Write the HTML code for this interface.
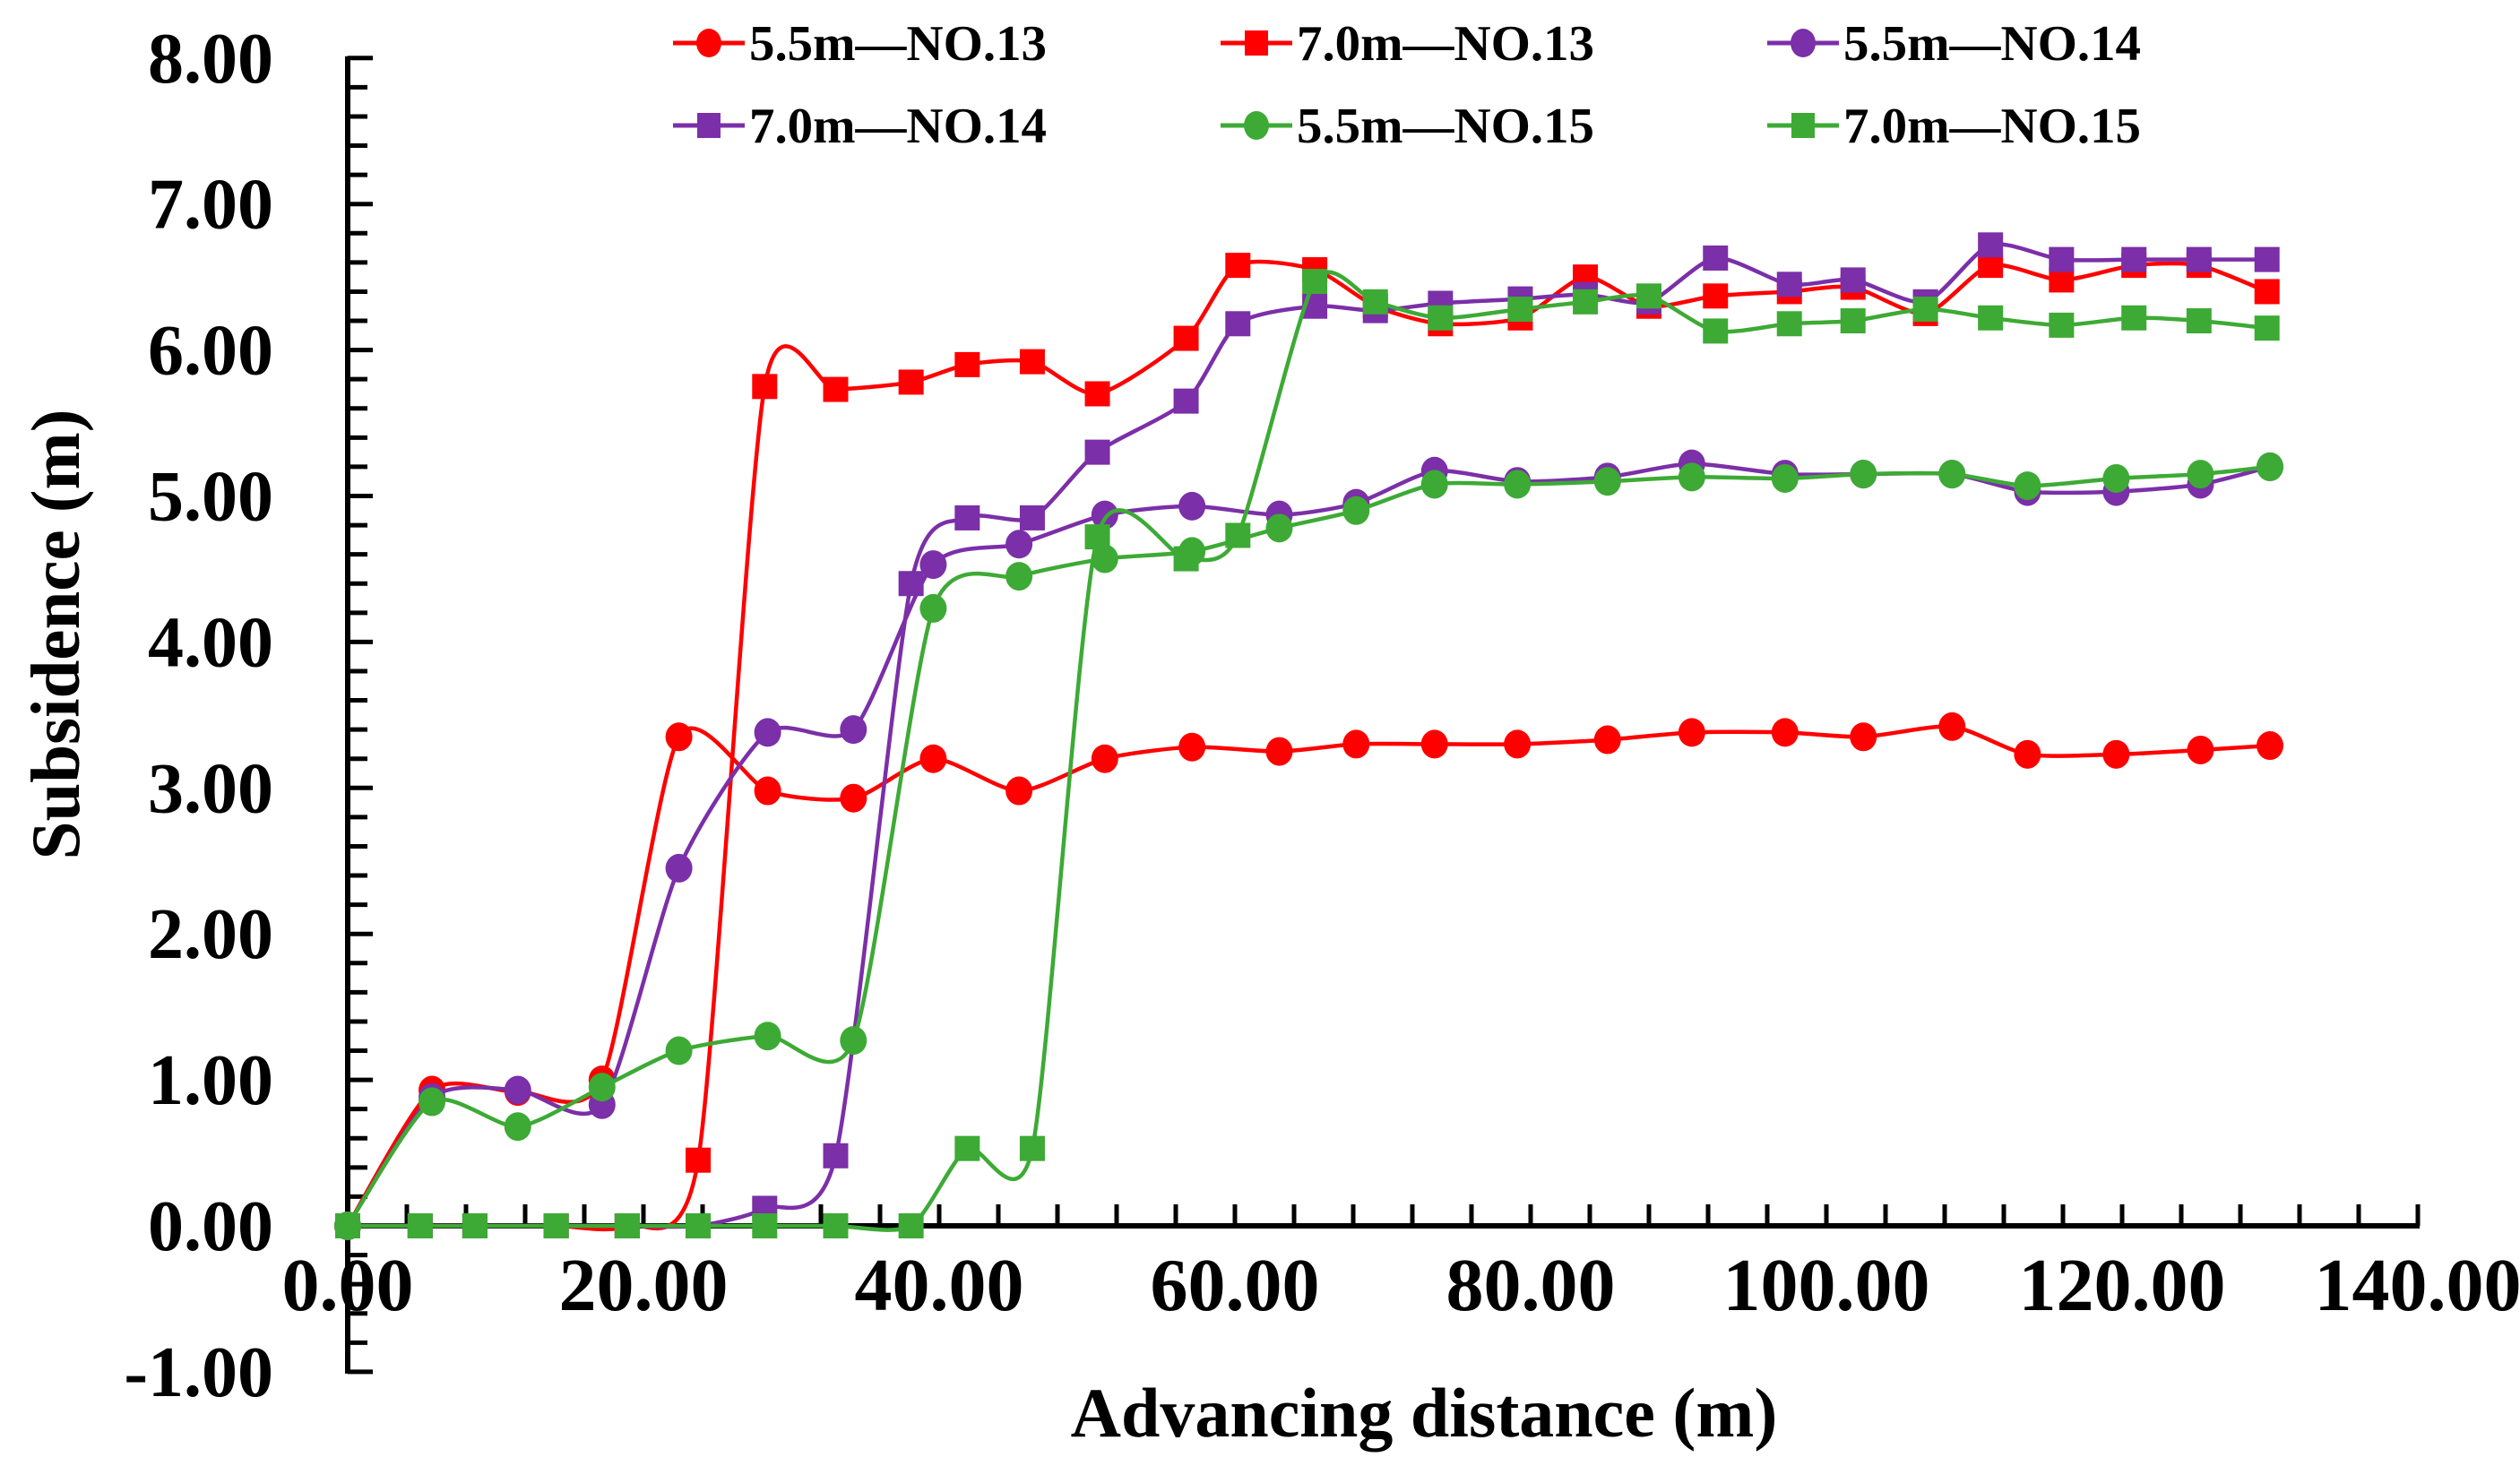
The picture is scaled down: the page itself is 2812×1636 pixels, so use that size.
<!DOCTYPE html>
<html><head><meta charset="utf-8"><style>
html,body{margin:0;padding:0;background:#fff;}
svg{display:block;font-family:"Liberation Serif",serif;font-weight:bold;}
</style></head><body>
<svg id="chart" width="2812" height="1636" viewBox="0 0 2812 1636">
<g id="axes"></g>
<g id="series"></g>
<g id="legend"></g>
</svg>
<script>
const xTickLabels = ["0.00","20.00","40.00","60.00","80.00","100.00","120.00","140.00"];
const xTickValues = [0,20,40,60,80,100,120,140];
const yTickLabels = ["-1.00","0.00","1.00","2.00","3.00","4.00","5.00","6.00","7.00","8.00"];
const yTickValues = [-1,0,1,2,3,4,5,6,7,8];
const xCircle = [0,5.7,11.5,17.2,22.4,28.4,34.2,39.6,45.4,51.2,57.1,63,68.2,73.5,79.1,85.2,90.9,97.2,102.5,108.5,113.6,119.6,125.3,130];
const xSquare = [0,4.9,8.6,14.1,18.9,23.7,28.2,33.0,38.1,41.9,46.3,50.7,56.7,60.2,65.4,69.5,73.9,79.3,83.7,88.0,92.5,97.5,101.8,106.7,111.1,115.9,120.8,125.2,129.8];
const y55NO13 = [0,0.93,0.92,1.0,3.35,2.98,2.93,3.2,2.98,3.2,3.28,3.25,3.3,3.3,3.3,3.33,3.38,3.38,3.35,3.42,3.23,3.23,3.26,3.29];
const y55NO14 = [0,0.88,0.93,0.83,2.45,3.38,3.4,4.53,4.67,4.87,4.93,4.87,4.95,5.17,5.1,5.13,5.22,5.15,5.15,5.15,5.03,5.03,5.08,5.2];
const y55NO15 = [0,0.85,0.68,0.95,1.2,1.3,1.27,4.23,4.45,4.57,4.62,4.78,4.9,5.08,5.08,5.1,5.13,5.12,5.15,5.15,5.07,5.12,5.15,5.2];
const y70NO13 = [0,0,0,0,0,0.45,5.75,5.73,5.78,5.9,5.92,5.7,6.08,6.58,6.55,6.3,6.18,6.22,6.5,6.3,6.37,6.4,6.43,6.25,6.58,6.48,6.58,6.58,6.4];
const y70NO14 = [0,0,0,0,0,0,0.12,0.48,4.4,4.85,4.85,5.3,5.65,6.18,6.3,6.27,6.32,6.35,6.38,6.33,6.63,6.45,6.48,6.33,6.72,6.62,6.62,6.62,6.62];
const y70NO15 = [0,0,0,0,0,0,0,0,0,0.53,0.53,4.72,4.57,4.73,6.47,6.33,6.22,6.28,6.33,6.37,6.13,6.18,6.2,6.28,6.22,6.17,6.22,6.2,6.15];

const X0=388, XPX=16.5, Y0=1368, YPX=162.9;
const sx=v=>X0+v*XPX, sy=v=>Y0-v*YPX;
const NS="http://www.w3.org/2000/svg";
function mk(tag,attrs,parent){const e=document.createElementNS(NS,tag);for(const k in attrs)e.setAttribute(k,attrs[k]);parent.appendChild(e);return e;}
const axes=document.getElementById('axes');
let yl=mk('line',{x1:X0,y1:sy(8)-2,x2:X0,y2:sy(-1)+2,stroke:'#000','stroke-width':6},axes);


for(let i=-5;i<=40;i++){const v=i/5;const t=mk('line',{x1:X0,x2:X0+(i%5===0?28:22),y1:sy(v),y2:sy(v),stroke:'#000','stroke-width':5},axes);

}
let xl=mk('line',{x1:X0,y1:Y0,x2:sx(140)+2,y2:Y0,stroke:'#000','stroke-width':6},axes);


for(let i=1;i<=35;i++){const v=i*4;const t=mk('line',{x1:sx(v),x2:sx(v),y1:Y0,y2:Y0-24,stroke:'#000','stroke-width':5},axes);

}
yTickValues.forEach((v,i)=>{const t=mk('text',{x:305,y:sy(v)+27,'text-anchor':'end','font-size':80},axes);t.textContent=yTickLabels[i];

});
xTickValues.forEach((v,i)=>{const t=mk('text',{x:sx(v),y:1462,'text-anchor':'middle','font-size':84},axes);t.textContent=xTickLabels[i];

});
let yt=mk('text',{x:0,y:0,'text-anchor':'middle','font-size':77,transform:'translate(88,708) rotate(-90)'},axes);yt.textContent='Subsidence (m)';


let xt=mk('text',{x:1589,y:1603,'text-anchor':'middle','font-size':78},axes);xt.textContent='Advancing distance (m)';



function smooth(pts){let d=`M${pts[0][0]},${pts[0][1]}`;const k=0.12;
for(let i=0;i<pts.length-1;i++){const p0=pts[i-1]||pts[i],p1=pts[i],p2=pts[i+1],p3=pts[i+2]||p2;
d+=` C${p1[0]+(p2[0]-p0[0])*k},${p1[1]+(p2[1]-p0[1])*k} ${p2[0]-(p3[0]-p1[0])*k},${p2[1]-(p3[1]-p1[1])*k} ${p2[0]},${p2[1]}`;}return d;}
const S=document.getElementById('series');
const RED='#ff0000',PUR='#7b2fa8',GRN='#3daa35';
function drawSeries(name,xs,ys,color,shape){
 const g=mk('g',{},S);
 
 
 const pts=xs.map((x,i)=>[sx(x),sy(ys[i])]);
 const p=mk('path',{d:smooth(pts),fill:'none',stroke:color,'stroke-width':4.5},g);
 
 
 pts.forEach(q=>{let m;
  if(shape==='c')m=mk('ellipse',{cx:q[0],cy:q[1],rx:15,ry:16,fill:color},g);
  else m=mk('rect',{x:q[0]-14,y:q[1]-14,width:28,height:28,fill:color},g);
  
  });
}
drawSeries('series-5-5m-no13',xCircle,y55NO13,RED,'c');
drawSeries('series-7-0m-no13',xSquare,y70NO13,RED,'s');
drawSeries('series-5-5m-no14',xCircle,y55NO14,PUR,'c');
drawSeries('series-7-0m-no14',xSquare,y70NO14,PUR,'s');
drawSeries('series-5-5m-no15',xCircle,y55NO15,GRN,'c');
drawSeries('series-7-0m-no15',xSquare,y70NO15,GRN,'s');

const L=document.getElementById('legend');
const legItems=[["5.5m—NO.13",RED,'c',751,48],["7.0m—NO.13",RED,'s',1362,48],["5.5m—NO.14",PUR,'c',1972,48],
["7.0m—NO.14",PUR,'s',751,140],["5.5m—NO.15",GRN,'c',1362,140],["7.0m—NO.15",GRN,'s',1972,140]];
legItems.forEach(it=>{const g=mk('g',{},L);
 
 
 mk('line',{x1:it[3],x2:it[3]+80,y1:it[4],y2:it[4],stroke:it[1],'stroke-width':5},g);
 if(it[2]==='c')mk('ellipse',{cx:it[3]+40,cy:it[4],rx:14,ry:16,fill:it[1]},g);
 else mk('rect',{x:it[3]+27,y:it[4]-14,width:26,height:28,fill:it[1]},g);
 const t=mk('text',{x:it[3]+85,y:it[4]+19,'font-size':56,textLength:332,lengthAdjust:'spacingAndGlyphs'},g);t.textContent=it[0];});
</script>
</body></html>
